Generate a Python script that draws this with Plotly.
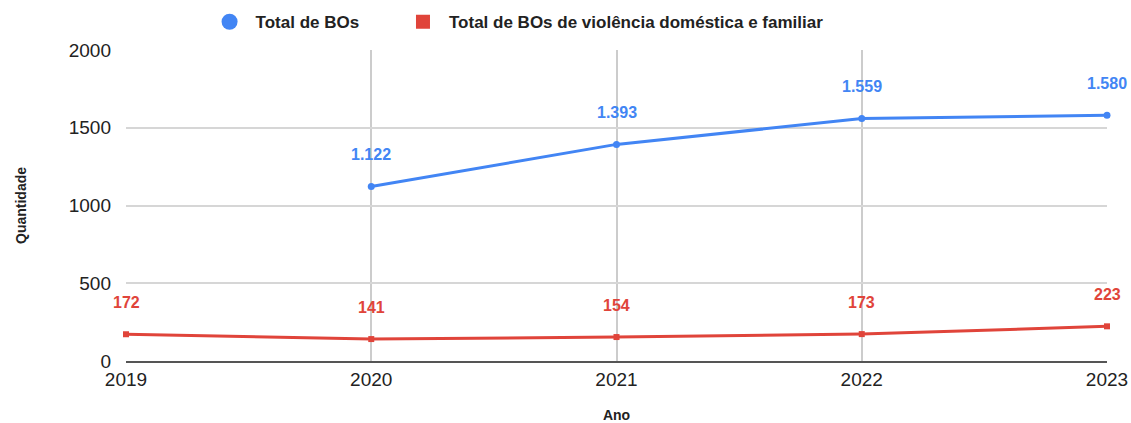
import plotly.graph_objects as go

# data
anos = [2019, 2020, 2021, 2022, 2023]
total_bos = [None, 1122, 1393, 1559, 1580]
total_vd = [172, 141, 154, 173, 223]
rotulo_bos = ["", "1.122", "1.393", "1.559", "1.580"]
rotulo_vd = ["172", "141", "154", "173", "223"]

azul = "#4285F4"
vermelho = "#E0443A"
fonte = "Liberation Sans, Arial, sans-serif"

fig = go.Figure()

fig.add_trace(go.Scatter(
    x=anos, y=total_bos, mode="lines+markers",
    line=dict(color=azul, width=3), marker=dict(color=azul, size=7),
    showlegend=False, connectgaps=False, cliponaxis=False
))
fig.add_trace(go.Scatter(
    x=anos, y=total_vd, mode="lines+markers",
    line=dict(color=vermelho, width=3), marker=dict(color=vermelho, size=6, symbol="square"),
    showlegend=False, cliponaxis=False
))

# legend-only traces (symbol without line), one legend box each
fig.add_trace(go.Scatter(x=[None], y=[None], mode="markers", name="<b>Total de BOs</b>",
                         marker=dict(color=azul, size=16, symbol="circle"), legend="legend"))
fig.add_trace(go.Scatter(x=[None], y=[None], mode="markers",
                         name="<b>Total de BOs de violência doméstica e familiar</b>",
                         marker=dict(color=vermelho, size=14, symbol="square"), legend="legend2"))

# value labels
for x, y, t in zip(anos, total_bos, rotulo_bos):
    if y is not None:
        fig.add_annotation(x=x, y=y, text="<b>" + t + "</b>", showarrow=False,
                           yshift=32, font=dict(color=azul, size=16, family=fonte))
for x, y, t in zip(anos, total_vd, rotulo_vd):
    fig.add_annotation(x=x, y=y, text="<b>" + t + "</b>", showarrow=False,
                       yshift=32, font=dict(color=vermelho, size=16, family=fonte))

leg = dict(orientation="h", xanchor="left", y=0.99, yanchor="top",
           xref="container", yref="container",
           font=dict(size=17, color="#222"), itemwidth=42)

fig.update_layout(
    width=1131, height=423,
    margin=dict(l=126, r=24, t=50, b=62, autoexpand=False),
    paper_bgcolor="white", plot_bgcolor="white",
    font=dict(family=fonte, color="#222"),
    legend=dict(leg, x=0.18),
    legend2=dict(leg, x=0.351),
    showlegend=True,
)

fig.update_xaxes(
    range=[2019, 2023], tickvals=anos, ticktext=[str(a) for a in anos],
    showgrid=True, gridcolor="#cccccc", gridwidth=2,
    tickfont=dict(size=19, color="#222"), zeroline=False,
    showline=True, linecolor="#555", linewidth=2,
    title=dict(text="<b>Ano</b>", font=dict(size=14, color="#222"), standoff=37),
)
fig.update_yaxes(
    range=[0, 2000], tickvals=[0, 500, 1000, 1500, 2000],
    showgrid=True, gridcolor="#d6d6d6", gridwidth=2,
    tickfont=dict(size=19, color="#222"), zeroline=False, ticklabelstandoff=14,
    title=dict(text="<b>Quantidade</b>", font=dict(size=14, color="#222"), standoff=38),
)

# drop the default page margin so the figure fills the window
fig.write_html("out.html", config={"displayModeBar": False},
               post_script="document.body.style.margin='0';document.body.style.overflow='hidden';")
